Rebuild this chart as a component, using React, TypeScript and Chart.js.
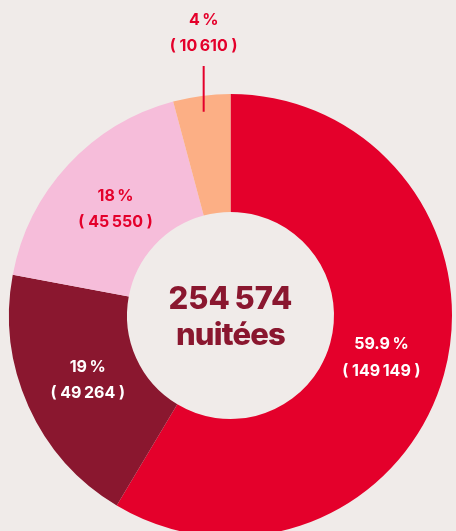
import React, { useEffect, useRef } from "react";
import { Chart, registerables } from "chart.js";

Chart.register(...registerables);

const categories = ["A", "B", "C", "D"];
const values = [149149, 49264, 45550, 10610];
const percentLabels = ["59.9\u202F%", "19\u202F%", "18\u202F%", "4\u202F%"];
const countLabels = ["(\u00A0149\u202F149\u00A0)", "(\u00A049\u202F264\u00A0)", "(\u00A045\u202F550\u00A0)", "(\u00A010\u202F610\u00A0)"];
const sliceColors = ["#E4002B", "#8A172F", "#F6BDDA", "#FCAF85"];
const labelColors = ["#FFFFFF", "#FFFFFF", "#E4002B", "#E4002B"];
const centerLines = ["254\u202F574", "nuitées"];

const BG = "#F0EBE9";
const FONT = "Inter, 'Open Sans', sans-serif";

const labelPlugin = {
  id: "sliceLabels",
  beforeDraw(chart: any) {
    const ctx = chart.ctx;
    ctx.save();
    ctx.fillStyle = BG;
    ctx.fillRect(0, 0, chart.width, chart.height);
    ctx.restore();
  },
  afterDraw(chart: any) {
    const ctx = chart.ctx;
    const meta = chart.getDatasetMeta(0);
    const total = values.reduce((a, b) => a + b, 0);
    ctx.save();
    ctx.textAlign = "center";
    ctx.textBaseline = "middle";
    meta.data.forEach((arc: any, i: number) => {
      const p = arc.getProps(["x", "y", "startAngle", "endAngle", "innerRadius", "outerRadius"], true);
      const mid = (p.startAngle + p.endAngle) / 2;
      ctx.font = `700 16px ${FONT}`;
      ctx.fillStyle = labelColors[i];
      if (values[i] / total < 0.06) {
        const r0 = p.outerRadius - 16;
        const lx = p.x + Math.cos(mid) * r0;
        const ly = p.y + Math.sin(mid) * r0;
        const topY = p.y - p.outerRadius - 28;
        ctx.strokeStyle = labelColors[i];
        ctx.lineWidth = 2;
        ctx.beginPath();
        ctx.moveTo(lx, ly);
        ctx.lineTo(lx, topY);
        ctx.stroke();
        ctx.fillText(percentLabels[i], lx, topY - 46);
        ctx.fillText(countLabels[i], lx, topY - 20);
      } else {
        const r = p.innerRadius + 0.45 * (p.outerRadius - p.innerRadius);
        const cx = p.x + Math.cos(mid) * r;
        const cy = p.y + Math.sin(mid) * r;
        ctx.fillText(percentLabels[i], cx, cy - 13);
        ctx.fillText(countLabels[i], cx, cy + 13.5);
      }
    });
    const a0 = meta.data[0];
    const c = a0.getProps(["x", "y"], true);
    ctx.fillStyle = "#8A172F";
    ctx.textBaseline = "alphabetic";
    ctx.font = `800 31px ${FONT}`;
    try { (ctx as any).letterSpacing = "-0.8px"; } catch (e) {}
    ctx.fillText(centerLines[0], c.x, c.y - 7);
    ctx.fillText(centerLines[1], c.x, c.y + 29);
    ctx.restore();
  },
};

export default function App() {
  const ref = useRef<HTMLCanvasElement>(null);
  useEffect(() => {
    document.body.style.background = BG;
    const chart = new Chart(ref.current!, {
      type: "doughnut",
      data: {
        labels: categories,
        datasets: [
          {
            data: values,
            backgroundColor: sliceColors,
            borderWidth: 0,
            hoverOffset: 0,
          },
        ],
      },
      options: {
        responsive: false,
        animation: false,
        devicePixelRatio: 1,
        cutout: 103.5,
        layout: { padding: { left: 9, right: 4, top: 94, bottom: 91 } },
        plugins: { legend: { display: false }, tooltip: { enabled: false } },
      },
      plugins: [labelPlugin],
    });
    return () => chart.destroy();
  }, []);
  return (
    <div style={{ position: "absolute", left: 0, top: 0, width: 456, height: 628 }}>
      <canvas ref={ref} width={456} height={628} style={{ display: "block" }} />
    </div>
  );
}
